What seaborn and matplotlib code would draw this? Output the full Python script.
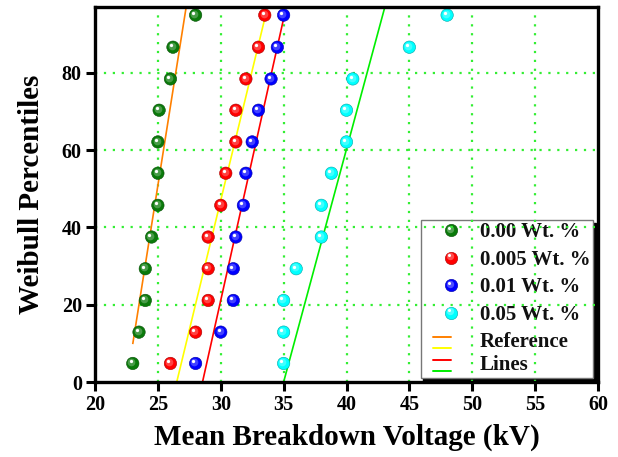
import numpy as np
import pandas as pd
import matplotlib
matplotlib.use("Agg")
import matplotlib.pyplot as plt
import matplotlib.transforms as mtransforms
from matplotlib.colors import to_rgb
from matplotlib.lines import Line2D
from matplotlib.legend_handler import HandlerBase
import seaborn as sns

# Weibull plotting positions (%) shared by all four samples
percentiles = [4.8, 12.9, 21.1, 29.3, 37.5, 45.7, 54.0, 62.1, 70.3, 78.4, 86.6, 94.9]

# Breakdown voltages (kV) for each nanofluid concentration
v_000 = [23.0, 23.5, 24.0, 24.0, 24.5, 25.0, 25.0, 25.0, 25.1, 26.0, 26.2, 28.0]
v_0005 = [26.0, 28.0, 29.0, 29.0, 29.0, 30.0, 30.4, 31.2, 31.2, 32.0, 33.0, 33.5]
v_001 = [28.0, 30.0, 31.0, 31.0, 31.2, 31.8, 32.0, 32.5, 33.0, 34.0, 34.5, 35.0]
v_005 = [35.0, 35.0, 35.0, 36.0, 38.0, 38.0, 38.8, 40.0, 40.0, 40.5, 45.0, 48.0]

series_labels = ["0.00 Wt. %", "0.005 Wt. %", "0.01 Wt. %", "0.05 Wt. %"]
series_colors = ["#0a7a0a", "#ff0000", "#0000ff", "#00ffff"]

# Reference (fit) lines: end points in data units
ref_x = [[23.0, 27.25], [26.5, 33.5], [28.55, 35.0], [35.0, 43.05]]
ref_y = [[9.8, 97.0], [0.0, 94.0], [0.0, 94.0], [0.0, 97.0]]
ref_colors = ["#ff8000", "#ffff00", "#ff0000", "#00ee00"]
ref_label = "Reference\nLines"

x_ticks = [20, 25, 30, 35, 40, 45, 50, 55, 60]
y_ticks = [0, 20, 40, 60, 80]

sns.set_style("white")
plt.rcParams["font.family"] = ["Liberation Serif", "DejaVu Serif"]
plt.rcParams["font.weight"] = "bold"
plt.rcParams["axes.labelweight"] = "bold"

df = pd.DataFrame({
    "voltage": v_000 + v_0005 + v_001 + v_005,
    "percentile": percentiles * 4,
    "series": sum([[lab] * len(percentiles) for lab in series_labels], []),
})


def blend(c, w, t):
    c = np.array(to_rgb(c)); w = np.array(to_rgb(w))
    return tuple(c * (1 - t) + w * t)


fig = plt.figure(figsize=(6.18, 4.57), dpi=100)
ax = fig.add_axes([95 / 618, 1 - 382 / 457, 503 / 618, 375 / 457])

# fitted reference lines
for xs, ys, c in zip(ref_x, ref_y, ref_colors):
    ax.plot(xs, ys, color=c, lw=1.2, zorder=3, solid_capstyle="butt")

# sphere-like markers: body, lighter core and a specular dot
S = 80
sns.scatterplot(data=df, x="voltage", y="percentile", hue="series",
                palette=dict(zip(series_labels, series_colors)), s=S,
                linewidth=0.4, edgecolor=None, legend=False, ax=ax, zorder=4)
for coll in ax.collections:
    fc = coll.get_facecolors()
    coll.set_edgecolors([blend(f[:3], "black", 0.35) for f in fc])

off_mid = mtransforms.offset_copy(ax.transData, fig=fig, x=-0.9, y=0.9, units="points")
off_hi = mtransforms.offset_copy(ax.transData, fig=fig, x=-1.6, y=1.6, units="points")
for lab, c in zip(series_labels, series_colors):
    sub = df[df.series == lab]
    ax.scatter(sub.voltage, sub.percentile, s=S * 0.38, color=blend(c, "white", 0.3),
               linewidths=0, transform=off_mid, zorder=5, alpha=0.85)
    ax.scatter(sub.voltage, sub.percentile, s=S * 0.07, color="white",
               linewidths=0, transform=off_hi, zorder=6)

ax.set_xlim(20, 60)
ax.set_ylim(0, 97)
ax.set_xticks(x_ticks)
ax.set_yticks(y_ticks)
ax.set_xticklabels([str(t) for t in x_ticks])
ax.set_yticklabels([str(t) for t in y_ticks])

# dotted grid, drawn only at interior ticks and above the legend box
ax.set_axisbelow(False)
ax.grid(False)
for xv in x_ticks[1:-1]:
    ax.axvline(xv, color="#33ee33", linestyle=(0, (1, 3)), linewidth=1.6, zorder=2.5)
for yv in y_ticks[1:]:
    ax.axhline(yv, color="#33ee33", linestyle=(0, (1, 3)), linewidth=1.6, zorder=2.5)

for sp in ax.spines.values():
    sp.set_linewidth(2.4)
    sp.set_color("black")
    sp.set_zorder(10)
ax.tick_params(axis="both", which="major", direction="out", length=6.5, width=2.2,
               labelsize=14.5, pad=3, color="black", labelcolor="black",
               bottom=True, left=True)
for lbl in ax.get_xticklabels() + ax.get_yticklabels():
    lbl.set_fontweight("bold")

ax.set_xlabel("Mean Breakdown Voltage (kV)", fontsize=21, fontweight="bold",
              labelpad=6, color="black")
ax.set_ylabel("Weibull Percentiles", fontsize=21, fontweight="bold",
              labelpad=12, color="black")


class SphereHandler(HandlerBase):
    def __init__(self, color, **kw):
        super().__init__(**kw)
        self.color = color

    def create_artists(self, legend, orig_handle, xdescent, ydescent, width,
                       height, fontsize, trans):
        cx = -xdescent + 0.54 * width
        cy = -ydescent + height / 2
        parts = [(0, 0, 8.9, self.color, 0.4),
                 (-0.9, 0.9, 5.3, blend(self.color, "white", 0.3), 0),
                 (-1.6, 1.6, 2.2, "white", 0)]
        arts = []
        for dx, dy, ms, c, ew in parts:
            ln = Line2D([cx + dx], [cy + dy], marker="o", markersize=ms,
                        markerfacecolor=c,
                        markeredgecolor=blend(self.color, "black", 0.35),
                        markeredgewidth=ew, linestyle="none", transform=trans)
            arts.append(ln)
        return arts


class StackedLinesHandler(HandlerBase):
    def __init__(self, colors, **kw):
        super().__init__(**kw)
        self.colors = colors

    def create_artists(self, legend, orig_handle, xdescent, ydescent, width,
                       height, fontsize, trans):
        cy = -ydescent + height / 2
        x0 = -xdescent + 0.19 * width
        x1 = -xdescent + 0.54 * width
        offs = [12.5, 4.2, -4.2, -12.5]
        return [Line2D([x0, x1], [cy + o, cy + o], color=c, lw=1.4, transform=trans)
                for o, c in zip(offs, self.colors)]


handles, hmap = [], {}
for lab, c in zip(series_labels, series_colors):
    h = Line2D([], [], label=lab)
    handles.append(h)
    hmap[h] = SphereHandler(c)
hl = Line2D([], [], label=ref_label)
handles.append(hl)
hmap[hl] = StackedLinesHandler(ref_colors)

leg = ax.legend(handles=handles, handler_map=hmap, loc="lower right",
                bbox_to_anchor=(0.99, 0.011), borderaxespad=0,
                prop={"family": "Liberation Serif", "weight": "bold", "size": 15},
                handlelength=2.5, handletextpad=0.22, labelspacing=0.36,
                borderpad=0.12, fancybox=False, framealpha=1,
                shadow={"color": "black", "alpha": 1})
leg.get_frame().set_edgecolor("#777777")
leg.get_frame().set_linewidth(1.0)
leg.set_zorder(2)
for t in leg.get_texts():
    t.set_color("#111111")

fig.savefig("out.png", dpi=100)
